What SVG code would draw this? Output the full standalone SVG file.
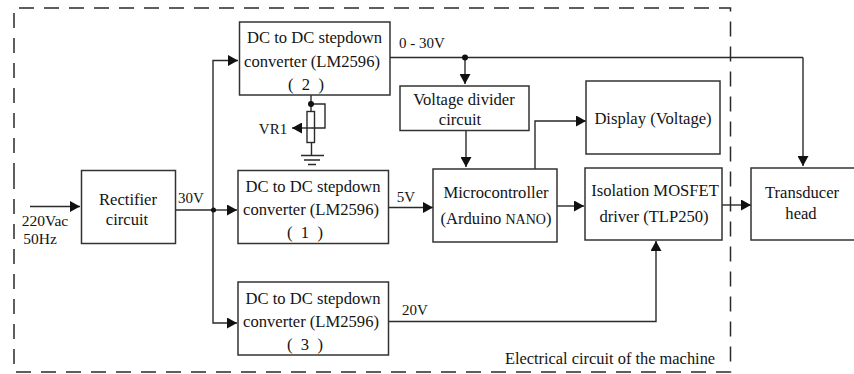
<svg xmlns="http://www.w3.org/2000/svg" width="854" height="374" viewBox="0 0 854 374">
<style>
text{font-family:"Liberation Serif","Times New Roman",serif;font-size:16.600px;fill:#141414;text-anchor:middle}
.s{font-size:15px}
.box{fill:#fff;stroke:#333;stroke-width:1.5}
.ln{fill:none;stroke:#2a2a2a;stroke-width:1.4}
.arr{marker-end:url(#a)}
.dash{fill:none;stroke:#2a2a2a;stroke-width:1.5;stroke-dasharray:15 10}
.dot{fill:#111}
</style>
<defs><marker id="a" markerUnits="userSpaceOnUse" markerWidth="11" markerHeight="11" refX="10" refY="5.500" orient="auto"><path d="M0 0L10 5.500L0 11z" fill="#111"/></marker></defs>
<rect width="854" height="374" fill="#fff"/>
<path id="frame" class="dash" d="M14 178V8H730.500V372H14V178"/>
<g id="connectors">
<path class="ln arr" d="M30 206.500H80"/>
<path class="ln" d="M176 210H213"/>
<path class="ln arr" d="M213 210H237"/>
<path class="ln arr" d="M213 210V60.500H238"/>
<path class="ln arr" d="M213 210V323H237"/>
<path class="ln" d="M390 57.500H803"/>
<path class="ln arr" d="M803 57.500V166"/>
<path class="ln arr" d="M465 57.500V84"/>
<path class="ln arr" d="M466 131V167"/>
<path class="ln arr" d="M535 169V121H586"/>
<path class="ln arr" d="M389 207.500H433"/>
<path class="ln arr" d="M557 206H584"/>
<path class="ln arr" d="M722 205H751"/>
<path class="ln arr" d="M389 321.500H656V241"/>
<path class="ln" d="M311 95V111"/>
<path class="ln" d="M311 104H325V128H311"/>
<path class="ln arr" d="M311 128H292"/>
<rect class="ln" x="307" y="111.500" width="7.500" height="31"/>
<path class="ln" d="M311.500 142.500V155M301 155.500H324M304 160H320M308 164.500H316"/>
<circle class="dot" cx="311" cy="104" r="3"/>
<circle class="dot" cx="465" cy="57.500" r="3"/>
<circle class="dot" cx="213.500" cy="210" r="2.500"/>
</g>
<g id="n-rectifier"><rect class="box" x="81.500" y="170.500" width="94" height="73"/><text x="128" y="205">Rectifier</text><text x="127" y="225">circuit</text></g>
<g id="n-dc2"><rect class="box" x="239.500" y="22" width="150.500" height="73"/><text x="314.500" y="43">DC to DC stepdown</text><text x="312" y="67">converter (LM2596)</text><text x="306" y="90" xml:space="preserve">(  2  )</text></g>
<g id="n-dc1"><rect class="box" x="238" y="170.500" width="150.500" height="73"/><text x="313" y="192">DC to DC stepdown</text><text x="311" y="215">converter (LM2596)</text><text x="305" y="238" xml:space="preserve">(  1  )</text></g>
<g id="n-dc3"><rect class="box" x="238" y="282" width="150.500" height="73"/><text x="313" y="304">DC to DC stepdown</text><text x="311" y="327">converter (LM2596)</text><text x="305" y="350" xml:space="preserve">(  3  )</text></g>
<g id="n-divider"><rect class="box" x="400" y="86" width="129" height="44.500"/><text x="464" y="105">Voltage divider</text><text x="460" y="125">circuit</text></g>
<g id="n-display"><rect class="box" x="586" y="81" width="134" height="73"/><text x="653" y="124">Display (Voltage)</text></g>
<g id="n-micro"><rect class="box" x="433" y="169" width="124" height="73"/><text x="496" y="198">Microcontroller</text><text x="496" y="224">(Arduino <tspan font-size="14">NANO</tspan>)</text></g>
<g id="n-iso"><rect class="box" x="585" y="168" width="137" height="72"/><text x="655" y="196">Isolation MOSFET</text><text x="654" y="222">driver (TLP250)</text></g>
<g id="n-head"><path class="box" d="M854 168H751V240H854"/><text x="802" y="198">Transducer</text><text x="801" y="219">head</text></g>
<g id="labels">
<text class="s" x="191" y="203">30V</text>
<text class="s" x="406" y="202">5V</text>
<text class="s" x="415" y="315">20V</text>
<text class="s" x="422" y="48">0 - 30V</text>
<text class="s" x="273" y="134">VR1</text>
<text x="45" y="226" style="font-size:15.500px">220Vac</text>
<text x="40" y="244" style="font-size:15.500px">50Hz</text>
<text x="610" y="364" style="font-size:16.400px">Electrical circuit of the machine</text>
</g>
</svg>
